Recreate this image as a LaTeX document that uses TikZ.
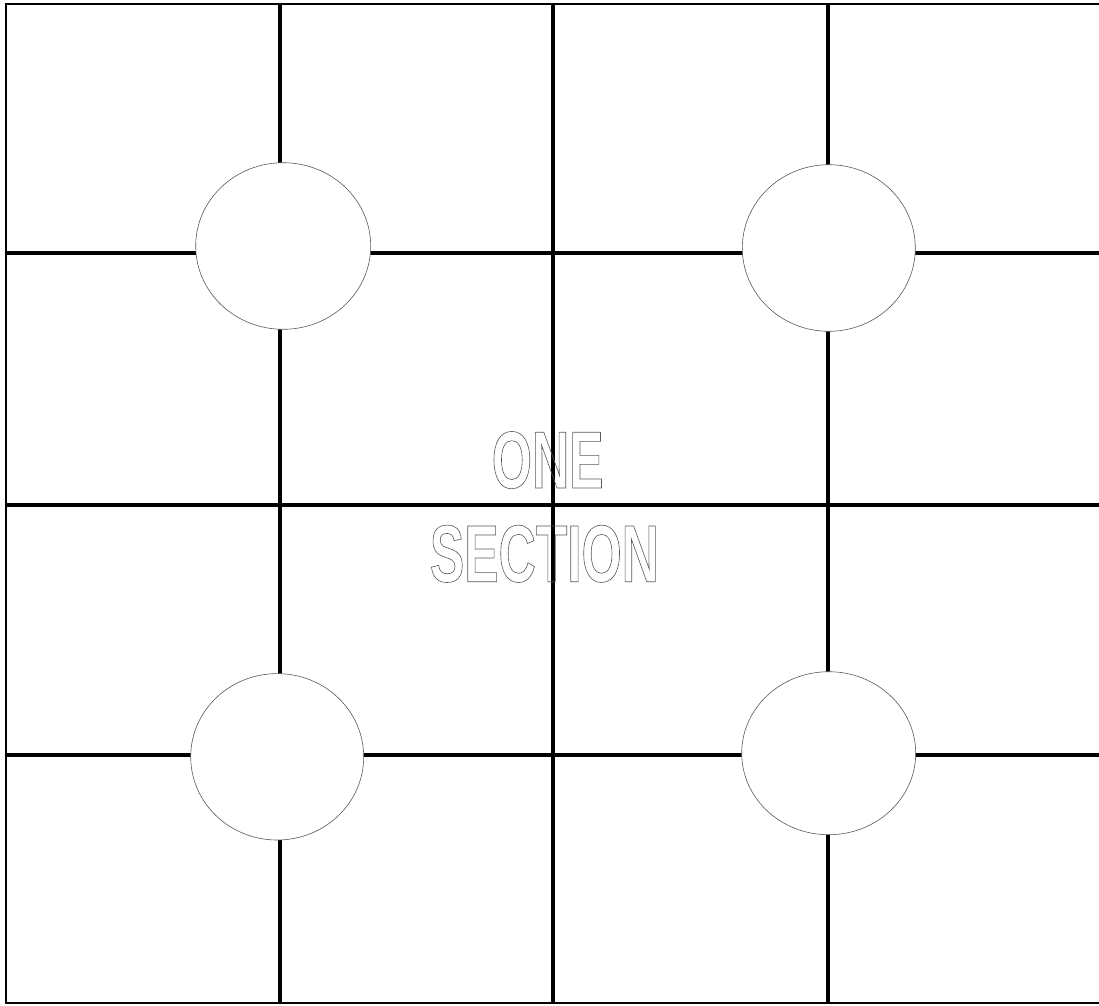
\documentclass[tikz,border=0pt]{standalone}
\usepackage{fontspec}
\newfontfamily\condfont[FakeStretch=0.636]{Liberation Sans}
\newcommand{\outlinetext}[1]{\special{pdf:literal direct 1 Tr 0.6 w 0.35 G}#1\special{pdf:literal direct 0 Tr 0 G}}
\begin{document}
\begin{tikzpicture}[x=1pt,y=-1pt,
  borderline/.style={line width=2.5pt},
  gridline/.style={line width=4pt},
  hole/.style={draw=black!65, line width=0.6pt, fill=white},
  label/.style={inner sep=0pt, anchor=base, font=\condfont\bfseries\fontsize{81}{81}\selectfont}]
\useasboundingbox (0,0) rectangle (1099,1005);
% outer frame (open to the right)
\draw[borderline] (1110,4) -- (5.8,4) -- (5.8,1003) -- (1110,1003);
% grid lines
\foreach \x in {280,553,828} \draw[gridline] (\x,4) -- (\x,1003);
\foreach \y in {252.7,504.7,754.7} \draw[gridline] (5.8,\y) -- (1110,\y);
% text
\node[label] (one) at (547.7,488) {\outlinetext{ONE}};
\node[label] (section) at (544.4,581.7) {\outlinetext{SECTION}};
% holes
\path[hole] (283.2,246) ellipse [x radius=87.5, y radius=83.3];
\path[hole] (828.8,248) ellipse [x radius=86.5, y radius=83.3];
\path[hole] (277.2,756.8) ellipse [x radius=86.5, y radius=83.2];
\path[hole] (828.7,753.2) ellipse [x radius=87, y radius=81.5];
\end{tikzpicture}
\end{document}
